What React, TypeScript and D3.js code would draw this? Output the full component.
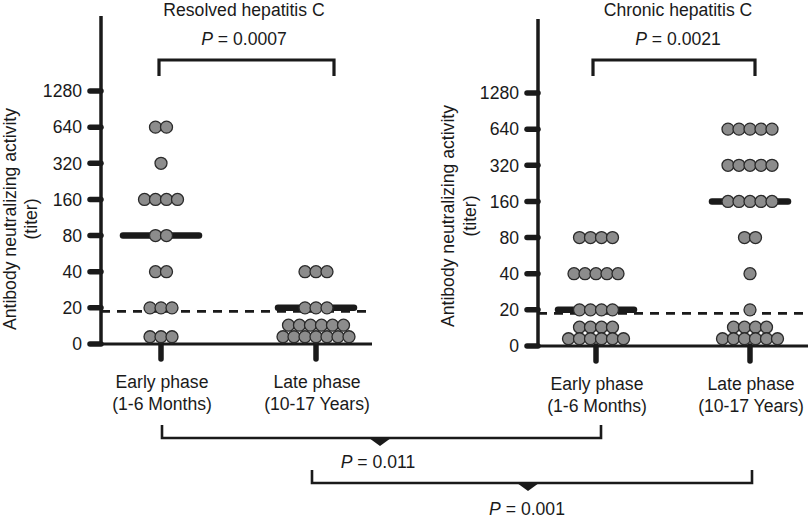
import React from "react";
import * as d3 from "d3";

// ---- data ----
const tickLabels = ["0", "20", "40", "80", "160", "320", "640", "1280"];
const tickValues = [0, 20, 40, 80, 160, 320, 640, 1280];
const categories = ["Early phase", "Late phase"];
const categorySub = ["(1-6 Months)", "(10-17 Years)"];
const panelTitles = ["Resolved hepatitis C", "Chronic hepatitis C"];
const panelPValues = ["0.0007", "0.0021"];

const resolvedEarly = [640, 640, 320, 160, 160, 160, 160, 80, 80, 40, 40, 20, 20, 20, 5, 5, 5];
const resolvedLate = [40, 40, 40, 20, 20, 20, 10, 10, 10, 10, 10, 10, 5, 5, 5, 5, 5, 5, 5];
const chronicEarly = [80, 80, 80, 80, 40, 40, 40, 40, 40, 20, 20, 20, 20, 10, 10, 10, 10, 5, 5, 5, 5, 5, 5];
const chronicLate = [640, 640, 640, 640, 640, 320, 320, 320, 320, 320, 160, 160, 160, 160, 160, 80, 80, 40, 20, 10, 10, 10, 10, 5, 5, 5, 5, 5, 5];

const resolvedMedians = [80, 20];
const chronicMedians = [20, 160];
const thresholdTiter = 18;

const crossPValues = ["0.011", "0.001"];

// ---- layout ----
const FONT = "'Liberation Sans', Arial, Helvetica, sans-serif";
const INK = "#1a1a1a";
const FS = 17.6;

const levelScale = d3
  .scaleLinear()
  .domain([0, 5, 10, 20, 40, 80, 160, 320, 640, 1280])
  .range([0, 0.2, 0.52, 1, 2, 3, 4, 5, 6, 7]);

type PanelCfg = {
  axisX: number;
  axisTop: number;
  y0: number;
  y1280: number;
  xRight: number;
  catX: number[];
  groups: number[][];
  medians: number[];
  title: string;
  p: string;
  titleX: number;
  bracket: [number, number];
  labelX: [number, number];
  labelY: number;
};

const panels: PanelCfg[] = [
  {
    axisX: 101,
    axisTop: 16,
    y0: 344,
    y1280: 91,
    xRight: 372,
    catX: [161, 316],
    groups: [resolvedEarly, resolvedLate],
    medians: resolvedMedians,
    title: panelTitles[0],
    p: panelPValues[0],
    titleX: 244,
    bracket: [159, 334],
    labelX: [16, 37],
    labelY: 219,
  },
  {
    axisX: 538,
    axisTop: 19,
    y0: 346,
    y1280: 93,
    xRight: 808,
    catX: [596, 750],
    groups: [chronicEarly, chronicLate],
    medians: chronicMedians,
    title: panelTitles[1],
    p: panelPValues[1],
    titleX: 678,
    bracket: [593, 755],
    labelX: [454, 476],
    labelY: 216,
  },
];

const DOT_R = 6;
const DOT_STEP = 11;

function Panel({ cfg }: { cfg: PanelCfg }) {
  const y = (v: number) =>
    d3.scaleLinear().domain([0, 7]).range([cfg.y0, cfg.y1280])(levelScale(v));

  const dots: { x: number; y: number; key: string }[] = [];
  cfg.groups.forEach((vals, gi) => {
    const rows = d3.groups(vals, (v) => v);
    rows.forEach(([v, arr]) => {
      const n = arr.length;
      arr.forEach((_, i) => {
        dots.push({
          x: cfg.catX[gi] + (i - (n - 1) / 2) * DOT_STEP,
          y: y(v),
          key: `${gi}-${v}-${i}`,
        });
      });
    });
  });

  const ty = y(thresholdTiter);

  return (
    <g>
      {/* y axis label */}
      <text
        transform={`translate(${cfg.labelX[0]},${cfg.labelY}) rotate(-90)`}
        textAnchor="middle"
        fontSize={FS}
        fill={INK}
      >
        Antibody neutralizing activity
      </text>
      <text
        transform={`translate(${cfg.labelX[1]},${cfg.labelY}) rotate(-90)`}
        textAnchor="middle"
        fontSize={FS}
        fill={INK}
      >
        (titer)
      </text>

      {/* title + top bracket */}
      <text x={cfg.titleX} y={16} textAnchor="middle" fontSize={FS} fill={INK}>
        {cfg.title}
      </text>
      <text x={cfg.titleX} y={45} textAnchor="middle" fontSize={FS} fill={INK}>
        <tspan fontStyle="italic">P</tspan> = {cfg.p}
      </text>
      <path
        d={`M${cfg.bracket[0]},76V60H${cfg.bracket[1]}V76`}
        fill="none"
        stroke={INK}
        strokeWidth={3.2}
      />

      {/* axes */}
      <line x1={cfg.axisX} x2={cfg.axisX} y1={cfg.axisTop} y2={cfg.y0 + 1.5} stroke={INK} strokeWidth={3.5} />
      <line x1={cfg.axisX} x2={cfg.xRight} y1={cfg.y0} y2={cfg.y0} stroke={INK} strokeWidth={3.2} />
      {tickValues.map((v, i) => (
        <g key={v}>
          <line
            x1={cfg.axisX - 11}
            x2={cfg.axisX}
            y1={y(v)}
            y2={y(v)}
            stroke={INK}
            strokeWidth={5.5}
            strokeLinecap="round"
          />
          <text
            x={cfg.axisX - 19}
            y={y(v)}
            dy="0.36em"
            textAnchor="end"
            fontSize={FS}
            fill={INK}
          >
            {tickLabels[i]}
          </text>
        </g>
      ))}
      {cfg.catX.map((cx, i) => (
        <g key={i}>
          <line x1={cx} x2={cx} y1={cfg.y0} y2={cfg.y0 + 15} stroke={INK} strokeWidth={5.5} strokeLinecap="round" />
          <text x={cx + 1} y={cfg.y0 + 44} textAnchor="middle" fontSize={FS} fill={INK}>
            {categories[i]}
          </text>
          <text x={cx + 1} y={cfg.y0 + 66} textAnchor="middle" fontSize={FS} fill={INK}>
            {categorySub[i]}
          </text>
        </g>
      ))}

      {/* threshold */}
      <line
        x1={cfg.axisX}
        x2={cfg.xRight}
        y1={ty}
        y2={ty}
        stroke={INK}
        strokeWidth={2.6}
        strokeDasharray="9 7"
      />

      {/* medians */}
      {cfg.medians.map((m, i) => (
        <line
          key={i}
          x1={cfg.catX[i] - 38}
          x2={cfg.catX[i] + 38}
          y1={y(m)}
          y2={y(m)}
          stroke={INK}
          strokeWidth={6.5}
          strokeLinecap="round"
        />
      ))}

      {/* dots */}
      {dots.map((d) => (
        <circle key={d.key} cx={d.x} cy={d.y} r={DOT_R} fill="#8c8c8c" stroke="#2a2a2a" strokeWidth={1.3} />
      ))}
    </g>
  );
}

const crossBrackets = [
  { x1: 162, x2: 601, y: 438, tip: 380, textX: 378, textY: 468 },
  { x1: 312, x2: 752, y: 483, tip: 528, textX: 527, textY: 515 },
];

export default function App() {
  return (
    <svg
      width={812}
      height={520}
      viewBox="0 0 812 520"
      style={{ position: "absolute", left: 0, top: 0, background: "#fff" }}
      fontFamily={FONT}
    >
      <rect width={812} height={520} fill="#fff" />
      {panels.map((p, i) => (
        <Panel key={i} cfg={p} />
      ))}
      {crossBrackets.map((b, i) => (
        <g key={i}>
          <path d={`M${b.x1},${b.y - 13}V${b.y}H${b.x2}V${b.y - 13}`} fill="none" stroke={INK} strokeWidth={2.6} />
          <path d={`M${b.tip - 11},${b.y}L${b.tip + 11},${b.y}L${b.tip},${b.y + 8}Z`} fill={INK} />
          <text x={b.textX} y={b.textY} textAnchor="middle" fontSize={FS} fill={INK}>
            <tspan fontStyle="italic">P</tspan> = {crossPValues[i]}
          </text>
        </g>
      ))}
    </svg>
  );
}
